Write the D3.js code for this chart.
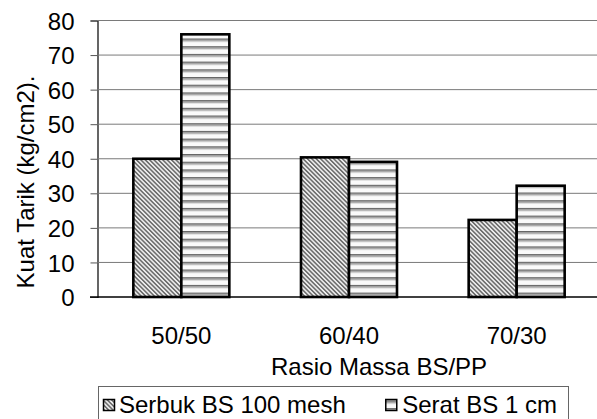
<!DOCTYPE html>
<html>
<head>
<meta charset="utf-8">
<script src="https://cdn.jsdelivr.net/npm/d3@7"></script>
<style>
  html, body { margin: 0; padding: 0; background: #fff; }
  svg { display: block; font-family: "Liberation Sans", Arial, sans-serif; }
</style>
</head>
<body>
<svg id="chart" width="597" height="419"></svg>
<script>
// Tensile strength by BS/PP mass ratio
const categories = ["50/50", "60/40", "70/30"];
const seriesNames = ["Serbuk BS 100 mesh", "Serat BS 1 cm"];
const serbukValues = [40, 40.4, 22.3];
const seratValues = [76, 39.1, 32.2];
const yTicks = [0, 10, 20, 30, 40, 50, 60, 70, 80];
const yTitle = "Kuat Tarik (kg/cm2).";
const xTitle = "Rasio Massa BS/PP";

const svg = d3.select("#chart");
const fs = 24;

const plot = { left: 97.5, right: 600.5, top: 20.5, bottom: 297 };

const x0 = d3.scaleBand().domain(categories).range([plot.left, plot.right]);
const groupWidth = 96;
const x1 = d3.scaleBand().domain(seriesNames).range([0, groupWidth]);
const y = d3.scaleLinear().domain([0, 80]).range([plot.bottom, plot.top]);

// Fill patterns
const defs = svg.append("defs");
const diag = defs.append("pattern")
  .attr("id", "pat-diag").attr("patternUnits", "userSpaceOnUse")
  .attr("width", 3.1).attr("height", 10)
  .attr("patternTransform", "rotate(-45)");
diag.append("rect").attr("width", 3.1).attr("height", 10).attr("fill", "#f0f0f0");
diag.append("rect").attr("width", 1.6).attr("height", 10).attr("fill", "#6e6e6e");

const horiz = defs.append("pattern")
  .attr("id", "pat-horiz").attr("patternUnits", "userSpaceOnUse")
  .attr("width", 10).attr("height", 7.7);
horiz.append("rect").attr("width", 10).attr("height", 7.7).attr("fill", "#fafafa");
horiz.append("rect").attr("y", 0).attr("width", 10).attr("height", 1.6).attr("fill", "#666");
horiz.append("rect").attr("y", 1.6).attr("width", 10).attr("height", 1.6).attr("fill", "#b0b0b0");

const fills = { "Serbuk BS 100 mesh": "url(#pat-diag)", "Serat BS 1 cm": "url(#pat-horiz)" };

// Gridlines and y-axis ticks
const yAxis = d3.axisLeft(y).tickValues(yTicks).tickSize(7).tickPadding(16);
const yg = svg.append("g").attr("transform", `translate(${plot.left},0)`).call(yAxis);
yg.select(".domain").attr("stroke", "#000").attr("stroke-width", 1.2);
yg.selectAll(".tick line").attr("stroke", "#555");
yg.selectAll(".tick text").attr("font-size", fs).attr("fill", "#000")
  .attr("font-family", "Liberation Sans, Arial, sans-serif").attr("dy", "0.36em");

svg.append("g").selectAll("line").data(yTicks.filter(d => d > 0)).join("line")
  .attr("x1", plot.left).attr("x2", 597)
  .attr("y1", d => y(d)).attr("y2", d => y(d))
  .attr("stroke", "#7a7a7a").attr("stroke-width", 1);

// Bars
const rows = categories.map((c, i) => ({ cat: c, values: [serbukValues[i], seratValues[i]] }));
const groups = svg.append("g").selectAll("g").data(rows).join("g")
  .attr("transform", d => `translate(${x0(d.cat) + x0.bandwidth() / 2 - groupWidth / 2},0)`);
groups.selectAll("rect")
  .data(d => d.values.map((v, j) => ({ key: seriesNames[j], value: v })))
  .join("rect")
  .attr("x", d => x1(d.key))
  .attr("y", d => y(d.value))
  .attr("width", x1.bandwidth())
  .attr("height", d => y(0) - y(d.value))
  .attr("fill", d => fills[d.key])
  .attr("stroke", "#000").attr("stroke-width", 2.6);

// Category axis line
svg.append("line").attr("x1", 90).attr("x2", 597)
  .attr("y1", plot.bottom).attr("y2", plot.bottom)
  .attr("stroke", "#000").attr("stroke-width", 1.4);

// Category labels
svg.append("g").selectAll("text").data(categories).join("text")
  .attr("x", d => x0(d) + x0.bandwidth() / 2)
  .attr("y", 344)
  .attr("text-anchor", "middle").attr("font-size", fs).attr("fill", "#000")
  .text(d => d);

// Axis titles
svg.append("text").attr("x", 271).attr("y", 375)
  .attr("font-size", fs).attr("fill", "#000").text(xTitle);

svg.append("text")
  .attr("transform", "translate(34,182) rotate(-90)")
  .attr("text-anchor", "middle").attr("font-size", fs).attr("fill", "#000")
  .text(yTitle);

// Legend
const lg = svg.append("g");
lg.append("rect").attr("x", 98.5).attr("y", 386.5).attr("width", 470).attr("height", 40)
  .attr("fill", "#fff").attr("stroke", "#666").attr("stroke-width", 1);

lg.append("rect").attr("x", 103.5).attr("y", 399.5).attr("width", 11).attr("height", 11)
  .attr("fill", fills[seriesNames[0]]).attr("stroke", "#000").attr("stroke-width", 1.5);
lg.append("text").attr("x", 119).attr("y", 413).attr("font-size", fs).attr("fill", "#000")
  .text(seriesNames[0]);

const t2 = lg.append("text").attr("x", 557).attr("y", 413).attr("text-anchor", "end")
  .attr("font-size", fs).attr("fill", "#000").text(seriesNames[1]);
const w2 = t2.node().getComputedTextLength();
lg.append("rect").attr("x", 557 - w2 - 16.5).attr("y", 399.5).attr("width", 11).attr("height", 11)
  .attr("fill", fills[seriesNames[1]]).attr("stroke", "#000").attr("stroke-width", 1.5);
</script>
</body>
</html>
